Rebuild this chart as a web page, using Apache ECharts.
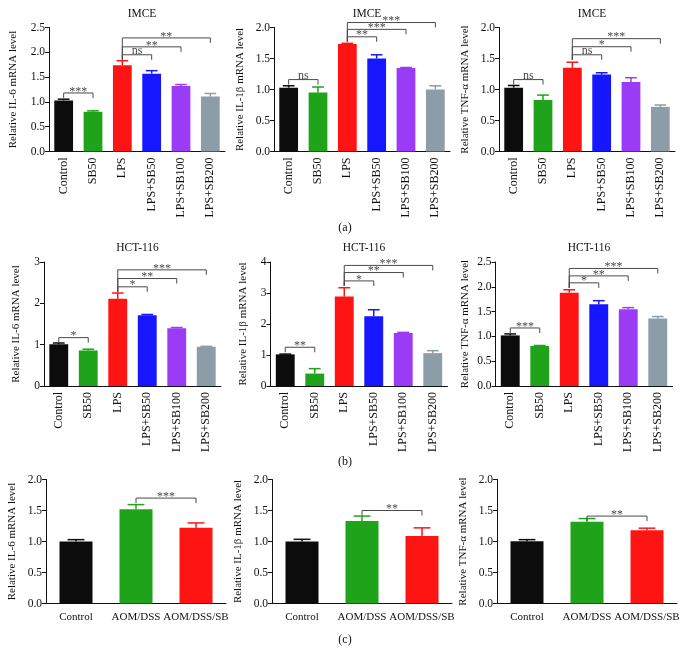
<!DOCTYPE html>
<html>
<head>
<meta charset="utf-8">
<script src="https://cdn.jsdelivr.net/npm/echarts@6/dist/echarts.min.js"></script>
<style>html,body{margin:0;padding:0;background:#fff}#c{width:684px;height:658px}</style>
</head>
<body>
<div id="c"></div>
<script>
// ---------- DATA ----------
const cats6 = ['Control', 'SB50', 'LPS', 'LPS+SB50', 'LPS+SB100', 'LPS+SB200'];
const cats3 = ['Control', 'AOM/DSS', 'AOM/DSS/SB'];

const imceIL6 = [1.03, 0.80, 1.74, 1.57, 1.32, 1.11];
const imceIL6Err = [0.025, 0.02, 0.09, 0.06, 0.03, 0.06];
const imceIL1b = [1.03, 0.95, 1.735, 1.50, 1.345, 1.00];
const imceIL1bErr = [0.03, 0.09, 0.01, 0.06, 0.01, 0.06];
const imceTNF = [1.03, 0.83, 1.35, 1.24, 1.12, 0.72];
const imceTNFErr = [0.035, 0.08, 0.09, 0.03, 0.07, 0.03];

const hctIL6 = [1.01, 0.86, 2.11, 1.71, 1.40, 0.95];
const hctIL6Err = [0.03, 0.03, 0.14, 0.02, 0.015, 0.01];
const hctIL1b = [1.02, 0.40, 2.89, 2.25, 1.71, 1.06];
const hctIL1bErr = [0.01, 0.16, 0.28, 0.21, 0.02, 0.08];
const hctTNF = [1.02, 0.806, 1.88, 1.65, 1.545, 1.36];
const hctTNFErr = [0.03, 0.01, 0.06, 0.07, 0.035, 0.04];

const vivoIL6 = [1.00, 1.52, 1.22];
const vivoIL6Err = [0.03, 0.075, 0.08];
const vivoIL1b = [1.00, 1.33, 1.09];
const vivoIL1bErr = [0.035, 0.08, 0.13];
const vivoTNF = [1.005, 1.32, 1.18];
const vivoTNFErr = [0.025, 0.05, 0.035];

// significance brackets: [fromIndex, toIndex, level, label]
const imceIL6Sig = [[0, 1, 1.18, '***'], [2, 3, 1.95, 'ns'], [2, 4, 2.11, '**'], [2, 5, 2.29, '**']];
const imceIL1bSig = [[0, 1, 1.16, 'ns'], [2, 3, 1.85, '**'], [2, 4, 1.97, '***'], [2, 5, 2.08, '***']];
const imceTNFSig = [[0, 1, 1.16, 'ns'], [2, 3, 1.56, 'ns'], [2, 4, 1.69, '*'], [2, 5, 1.82, '***']];
const hctIL6Sig = [[0, 1, 1.17, '*'], [2, 3, 2.40, '*'], [2, 4, 2.60, '**'], [2, 5, 2.81, '***']];
const hctIL1bSig = [[0, 1, 1.25, '**'], [2, 3, 3.39, '*'], [2, 4, 3.66, '**'], [2, 5, 3.89, '***']];
const hctTNFSig = [[0, 1, 1.17, '***'], [2, 3, 2.08, '*'], [2, 4, 2.22, '**'], [2, 5, 2.37, '***']];
const vivoIL6Sig = [[1, 2, 1.70, '***']];
const vivoIL1bSig = [[1, 2, 1.50, '**']];
const vivoTNFSig = [[1, 2, 1.41, '**']];

const yNames = ['Relative IL-6 mRNA level', 'Relative IL-1\u03B2 mRNA level', 'Relative TNF-\u03B1 mRNA level'];
const yMax = [2.5, 2.0, 2.0, 3, 4, 2.5, 2.0, 2.0, 2.0];
const yInt = [0.5, 0.5, 0.5, 1, 1, 0.5, 0.5, 0.5, 0.5];
const panelTitles = ['IMCE', 'IMCE', 'IMCE', 'HCT-116', 'HCT-116', 'HCT-116', '', '', ''];
const subLabels = ['(a)', '(b)', '(c)'];

// ---------- STYLE / LAYOUT ----------
const colors6 = ['#0c0c0c', '#1fa31a', '#ff1414', '#1717ff', '#9a3cf6', '#8d9da7'];
const colors3 = ['#0c0c0c', '#1fa31a', '#ff1414'];
const FONT = '"Liberation Serif", "DejaVu Serif", serif';
const grids = [
  {left: 49, top: 27.5, width: 176, height: 124},
  {left: 274, top: 27.5, width: 176, height: 124},
  {left: 499, top: 27.5, width: 176, height: 124},
  {left: 44, top: 262, width: 177, height: 124},
  {left: 270.5, top: 262, width: 177, height: 124},
  {left: 495.5, top: 262, width: 177, height: 124},
  {left: 46, top: 479.5, width: 180, height: 124},
  {left: 272, top: 479.5, width: 180, height: 124},
  {left: 497, top: 479.5, width: 180, height: 124}
];
const nameGaps = [30, 28, 28, 22, 22, 25, 28, 28, 28];

const panels = [
  [cats6, imceIL6, imceIL6Err, imceIL6Sig, colors6],
  [cats6, imceIL1b, imceIL1bErr, imceIL1bSig, colors6],
  [cats6, imceTNF, imceTNFErr, imceTNFSig, colors6],
  [cats6, hctIL6, hctIL6Err, hctIL6Sig, colors6],
  [cats6, hctIL1b, hctIL1bErr, hctIL1bSig, colors6],
  [cats6, hctTNF, hctTNFErr, hctTNFSig, colors6],
  [cats3, vivoIL6, vivoIL6Err, vivoIL6Sig, colors3],
  [cats3, vivoIL1b, vivoIL1bErr, vivoIL1bSig, colors3],
  [cats3, vivoTNF, vivoTNFErr, vivoTNFSig, colors3]
];

const option = {
  animation: false,
  backgroundColor: '#fff',
  textStyle: {fontFamily: FONT},
  grid: grids,
  title: [],
  xAxis: [],
  yAxis: [],
  series: []
};

panels.forEach(function (p, k) {
  const cats = p[0], vals = p[1], errs = p[2], sig = p[3], cols = p[4];
  const isSix = cats.length === 6;
  option.xAxis.push({
    type: 'category', gridIndex: k, data: cats,
    axisLine: {lineStyle: {color: '#111', width: 1}},
    axisTick: {alignWithLabel: true, length: 4, lineStyle: {color: '#111'}},
    axisLabel: isSix
      ? {rotate: 90, interval: 0, fontSize: 12, color: '#111', fontFamily: FONT, margin: 6}
      : {interval: 0, fontSize: 11, color: '#111', fontFamily: FONT, margin: 8}
  });
  option.yAxis.push({
    type: 'value', gridIndex: k, min: 0, max: yMax[k], interval: yInt[k],
    name: yNames[k % 3], nameLocation: 'middle', nameGap: nameGaps[k],
    nameTextStyle: {fontSize: 11, color: '#111', fontFamily: FONT},
    axisLine: {show: true, lineStyle: {color: '#111', width: 1}},
    axisTick: {show: true, length: 4, lineStyle: {color: '#111'}},
    splitLine: {show: false},
    axisLabel: {fontSize: 11.5, color: '#111', fontFamily: FONT, margin: 4,
      formatter: function (v) { return yInt[k] < 1 ? v.toFixed(1) : String(v); }}
  });
  option.series.push({
    type: 'bar', xAxisIndex: k, yAxisIndex: k,
    barWidth: isSix ? '64%' : '55%',
    data: vals.map(function (v, i) { return {value: v, itemStyle: {color: cols[i]}}; })
  });
  // error bars
  option.series.push({
    type: 'custom', xAxisIndex: k, yAxisIndex: k, clip: false, z: 3,
    encode: {x: 0, y: 1},
    data: vals.map(function (v, i) { return [i, v, errs[i]]; }),
    renderItem: function (params, api) {
      const i = api.value(0), v = api.value(1), e = api.value(2);
      const a = api.coord([i, v]), b = api.coord([i, v + e]);
      const hw = api.size([1, 0])[0] * (isSix ? 0.2 : 0.14);
      const c = cols[i];
      return {type: 'group', children: [
        {type: 'line', shape: {x1: a[0], y1: a[1], x2: b[0], y2: b[1]}, style: {stroke: c, lineWidth: 1.5}},
        {type: 'line', shape: {x1: b[0] - hw, y1: b[1], x2: b[0] + hw, y2: b[1]}, style: {stroke: c, lineWidth: 1.5}}
      ]};
    }
  });
  // significance brackets
  option.series.push({
    type: 'custom', xAxisIndex: k, yAxisIndex: k, clip: false, z: 4,
    encode: {x: 0, y: 2},
    data: sig.map(function (s) { return [s[0], s[1], s[2]]; }),
    renderItem: function (params, api) {
      const f = api.value(0), t = api.value(1), lv = api.value(2);
      const lab = sig[params.dataIndex][3];
      let lowest = lv;
      sig.forEach(function (s) { if (s[0] === f && s[2] < lowest) lowest = s[2]; });
      const a = api.coord([f, lv]), b = api.coord([t, lv]);
      const low = api.coord([f, lowest]);
      const tick = 5;
      const col = '#4a4a4a';
      const isStar = lab.indexOf('*') >= 0;
      return {type: 'group', children: [
        {type: 'line', shape: {x1: a[0], y1: a[1], x2: b[0], y2: b[1]}, style: {stroke: col, lineWidth: 1}},
        {type: 'line', shape: {x1: a[0], y1: a[1], x2: a[0], y2: low[1] + tick}, style: {stroke: col, lineWidth: 1}},
        {type: 'line', shape: {x1: b[0], y1: b[1], x2: b[0], y2: b[1] + tick}, style: {stroke: col, lineWidth: 1}},
        {type: 'text', style: {text: lab, x: (a[0] + b[0]) / 2, y: a[1] + (isStar ? 4.5 : 2),
          align: 'center', verticalAlign: 'bottom', fill: col,
          font: '12px ' + FONT}}
      ]};
    }
  });
  if (panelTitles[k]) {
    const g = grids[k];
    option.title.push({
      text: panelTitles[k], left: g.left + g.width / 2, top: k < 3 ? 3 : 237,
      textAlign: 'center',
      textStyle: {fontSize: 11.5, fontWeight: 'normal', color: '#111', fontFamily: FONT}
    });
  }
});

[217, 451, 629].forEach(function (t, i) {
  option.title.push({
    text: subLabels[i], left: 340, top: t, textAlign: 'center',
    textStyle: {fontSize: 12, fontWeight: 'normal', color: '#111', fontFamily: FONT}
  });
});

const chart = echarts.init(document.getElementById('c'), null, {renderer: 'canvas'});
chart.setOption(option);
</script>
</body>
</html>
